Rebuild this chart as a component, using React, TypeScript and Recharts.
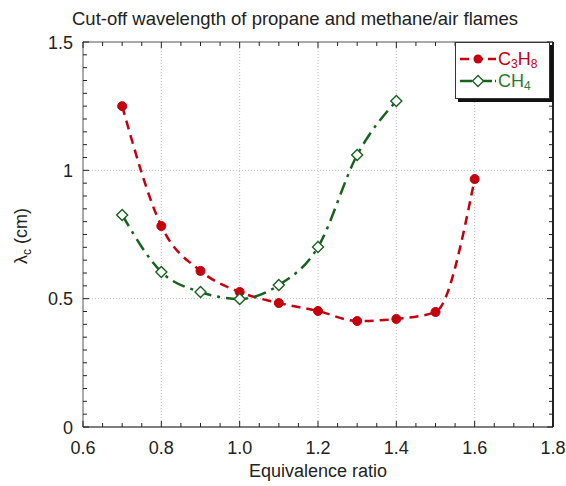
import React from 'react';
import { LineChart, Line, XAxis, YAxis, ReferenceLine, Legend } from 'recharts';

const c3h8Phi = [0.7, 0.8, 0.9, 1.0, 1.1, 1.2, 1.3, 1.4, 1.5, 1.6];
const c3h8Lambda = [1.25, 0.783, 0.608, 0.526, 0.483, 0.452, 0.413, 0.421, 0.448, 0.966];
const ch4Phi = [0.7, 0.8, 0.9, 1.0, 1.1, 1.2, 1.3, 1.4];
const ch4Lambda = [0.826, 0.604, 0.526, 0.499, 0.553, 0.701, 1.06, 1.27];

const xMajorTicks = [0.6, 0.8, 1.0, 1.2, 1.4, 1.6, 1.8];
const xMinorTicks = [0.6, 0.65, 0.7, 0.75, 0.8, 0.85, 0.9, 0.95, 1.0, 1.05, 1.1, 1.15, 1.2, 1.25, 1.3, 1.35, 1.4, 1.45, 1.5, 1.55, 1.6, 1.65, 1.7, 1.75, 1.8];
const yMajorTicks = [0, 0.5, 1, 1.5];
const yMinorTicks = [0, 0.05, 0.1, 0.15, 0.2, 0.25, 0.3, 0.35, 0.4, 0.45, 0.5, 0.55, 0.6, 0.65, 0.7, 0.75, 0.8, 0.85, 0.9, 0.95, 1.0, 1.05, 1.1, 1.15, 1.2, 1.25, 1.3, 1.35, 1.4, 1.45, 1.5];
const xGrid = [0.8, 1.0, 1.2, 1.4, 1.6];
const yGrid = [0.5, 1.0];

const c3h8Data = c3h8Phi.map((x, i) => ({ x, y: c3h8Lambda[i] }));
const ch4Data = ch4Phi.map((x, i) => ({ x, y: ch4Lambda[i] }));

const RED = '#c4000e';
const GREEN = '#17621f';
const GREEN_TEXT = '#2b7a33';
const FONT = '"Liberation Sans", Arial, Helvetica, sans-serif';
const AXIS = '#555';
const FS = 18;

const isMajor = (v: number, majors: number[]) => majors.some((m) => Math.abs(m - v) < 1e-6);

const fmtX = (v: number) => v.toFixed(1);
const fmtY = (v: number) => (v === 0 ? '0' : v === 1 ? '1' : String(v));

const makeTick = (side: 'bottom' | 'top' | 'left' | 'right', majors: number[], labels: boolean) => (props: any) => {
  const { x, y, payload } = props;
  const v = payload.value;
  const major = isMajor(v, majors);
  const len = major ? 6 : 4;
  let line: any = null;
  if (side === 'bottom') line = <line x1={x} y1={y} x2={x} y2={y - len} stroke="#222" strokeWidth={1} />;
  if (side === 'top') line = <line x1={x} y1={y} x2={x} y2={y + len} stroke="#222" strokeWidth={1} />;
  if (side === 'left') line = <line x1={x} y1={y} x2={x + len} y2={y} stroke="#222" strokeWidth={1} />;
  if (side === 'right') line = <line x1={x} y1={y} x2={x - len} y2={y} stroke="#222" strokeWidth={1} />;
  let label: any = null;
  if (labels && major) {
    if (side === 'bottom')
      label = (
        <text x={x} y={y + 27} textAnchor="middle" fontSize={FS} fontFamily={FONT} fill="#222">
          {fmtX(v)}
        </text>
      );
    if (side === 'left')
      label = (
        <text x={x - 10} y={y + 6.5} textAnchor="end" fontSize={FS} fontFamily={FONT} fill="#222">
          {fmtY(v)}
        </text>
      );
  }
  return (
    <g>
      {line}
      {label}
    </g>
  );
};

const CircleDot = (props: any) => {
  const { cx, cy } = props;
  if (cx == null || cy == null) return null;
  return <circle cx={cx} cy={cy} r={4.5} fill={RED} stroke={RED} />;
};

const DiamondDot = (props: any) => {
  const { cx, cy } = props;
  if (cx == null || cy == null) return null;
  const s = 5.5;
  return (
    <polygon
      points={`${cx},${cy - s} ${cx + s},${cy} ${cx},${cy + s} ${cx - s},${cy}`}
      fill="#fff"
      stroke={GREEN}
      strokeWidth={1.4}
    />
  );
};

const subStyle: React.CSSProperties = { fontSize: 12, verticalAlign: -3, lineHeight: 0 };

const LegendBox = () => (
  <div
    style={{
      width: 95,
      height: 57,
      border: '1px solid #333',
      background: '#fff',
      boxShadow: '3px 3px 0 #111',
      fontFamily: FONT,
      fontSize: FS,
      boxSizing: 'border-box',
      paddingTop: 5,
    }}
  >
    <div style={{ display: 'flex', alignItems: 'center', height: 22, color: RED }}>
      <svg width={38} height={14} style={{ marginLeft: 3 }}>
        <line x1={1} y1={7} x2={37} y2={7} stroke={RED} strokeWidth={2.5} strokeDasharray="9 5" />
        <circle cx={19} cy={7} r={4.5} fill={RED} />
      </svg>
      <span style={{ marginLeft: 1 }}>
        C<sub style={subStyle}>3</sub>H<sub style={subStyle}>8</sub>
      </span>
    </div>
    <div style={{ display: 'flex', alignItems: 'center', height: 22, color: GREEN_TEXT }}>
      <svg width={38} height={14} style={{ marginLeft: 3 }}>
        <line x1={1} y1={7} x2={37} y2={7} stroke={GREEN} strokeWidth={2.5} strokeDasharray="12 3 2 3" />
        <polygon points="19,1.5 24.5,7 19,12.5 13.5,7" fill="#fff" stroke={GREEN} strokeWidth={1.4} />
      </svg>
      <span style={{ marginLeft: 1 }}>
        CH<sub style={subStyle}>4</sub>
      </span>
    </div>
  </div>
);

const YLabel = () => {
  const cx = 27;
  const cy = 236;
  return (
    <text
      x={cx}
      y={cy}
      transform={`rotate(-90 ${cx} ${cy})`}
      textAnchor="middle"
      fontSize={FS}
      fontFamily={FONT}
      fill="#222"
    >
      λ<tspan fontSize={12} dy={4}>c</tspan>
      <tspan dy={-4}> (cm)</tspan>
    </text>
  );
};

export default function App() {
  return (
    <div style={{ position: 'absolute', left: 0, top: 0, width: 566, height: 486, background: '#fff' }}>
      <LineChart width={566} height={486} margin={{ top: 41, right: 12, bottom: 58, left: 82 }}>
        <text x={295} y={25} textAnchor="middle" fontSize={18.5} fontFamily={FONT} fill="#222">
          Cut-off wavelength of propane and methane/air flames
        </text>
        <XAxis
          xAxisId="b"
          type="number"
          dataKey="x"
          domain={[0.6, 1.8]}
          ticks={xMinorTicks}
          interval={0}
          height={1}
          tickSize={0}
          tickMargin={0}
          tickLine={false}
          axisLine={{ stroke: AXIS, strokeWidth: 1.5 }}
          tick={makeTick('bottom', xMajorTicks, true)}
          allowDataOverflow
          label={{ value: 'Equivalence ratio', position: 'bottom', offset: 36, fontSize: FS, fontFamily: FONT, fill: '#222' }}
        />
        <XAxis
          xAxisId="t"
          orientation="top"
          type="number"
          dataKey="x"
          domain={[0.6, 1.8]}
          ticks={xMinorTicks}
          interval={0}
          height={1}
          tickSize={0}
          tickMargin={0}
          tickLine={false}
          axisLine={{ stroke: AXIS, strokeWidth: 1 }}
          tick={makeTick('top', xMajorTicks, false)}
          allowDataOverflow
        />
        <YAxis
          yAxisId="l"
          type="number"
          domain={[0, 1.5]}
          ticks={yMinorTicks}
          interval={0}
          width={1}
          tickSize={0}
          tickMargin={0}
          tickLine={false}
          axisLine={{ stroke: AXIS, strokeWidth: 1 }}
          tick={makeTick('left', yMajorTicks, true)}
          allowDataOverflow
          label={<YLabel />}
        />
        <YAxis
          yAxisId="r"
          orientation="right"
          type="number"
          domain={[0, 1.5]}
          ticks={yMinorTicks}
          interval={0}
          width={1}
          tickSize={0}
          tickMargin={0}
          tickLine={false}
          axisLine={{ stroke: '#222', strokeWidth: 2 }}
          tick={makeTick('right', yMajorTicks, false)}
          allowDataOverflow
        />
        {xGrid.map((v) => (
          <ReferenceLine key={'gx' + v} xAxisId="b" yAxisId="l" x={v} stroke="#bbb" strokeDasharray="1 2" />
        ))}
        {yGrid.map((v) => (
          <ReferenceLine key={'gy' + v} xAxisId="b" yAxisId="l" y={v} stroke="#bbb" strokeDasharray="1 2" />
        ))}
        <Line
          xAxisId="b"
          yAxisId="l"
          data={c3h8Data}
          dataKey="y"
          type="monotone"
          stroke={RED}
          strokeWidth={2.5}
          strokeDasharray="9 6"
          dot={<CircleDot />}
          isAnimationActive={false}
          legendType="none"
        />
        <Line
          xAxisId="b"
          yAxisId="l"
          data={ch4Data}
          dataKey="y"
          type="monotone"
          stroke={GREEN}
          strokeWidth={2.5}
          strokeDasharray="13 6 3 6"
          dot={<DiamondDot />}
          isAnimationActive={false}
          legendType="none"
        />
        <Legend
          layout="vertical"
          align="center"
          verticalAlign="middle"
          content={<LegendBox />}
          wrapperStyle={{ left: 455, top: 42, width: 98, height: 60 }}
        />
      </LineChart>
    </div>
  );
}
